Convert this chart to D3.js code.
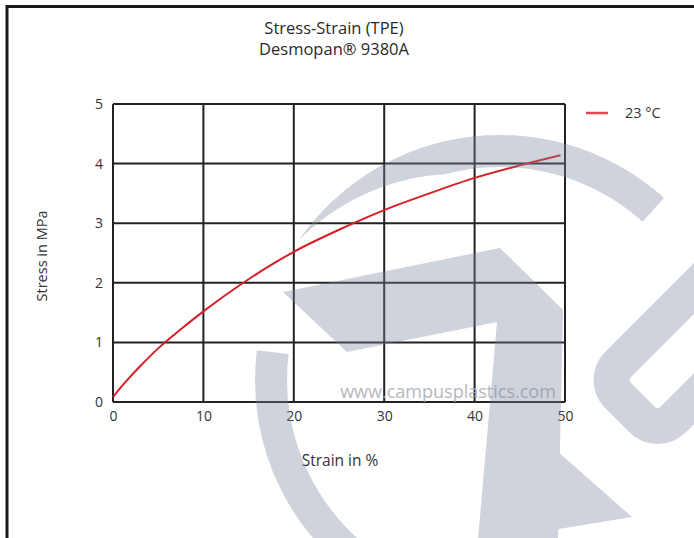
<!DOCTYPE html>
<html><head><meta charset="utf-8">
<script src="https://cdn.jsdelivr.net/npm/d3@7"></script>
<style>body{margin:0;background:#fff}svg{display:block}</style>
</head><body>
<svg id="c" width="694" height="538"></svg>
<script>
const titleLines = ["Stress-Strain (TPE)", "Desmopan\u00AE 9380A"];
const xLabel = "Strain in %";
const yLabel = "Stress in MPa";
const seriesName = "23 \u00B0C";
const strain = [0, 1, 2, 3, 5, 7.5, 10, 12.5, 15, 17.5, 20, 25, 30, 35, 40, 45, 49.5];
const stress = [0.08, 0.27, 0.44, 0.6, 0.9, 1.22, 1.52, 1.8, 2.06, 2.3, 2.52, 2.89, 3.22, 3.5, 3.76, 3.97, 4.14];
const xTicks = [0, 10, 20, 30, 40, 50];
const yTicks = [0, 1, 2, 3, 4, 5];

const svg = d3.select("#c");
const font = "'Open Sans', 'DejaVu Sans', sans-serif";
const L = 113, R = 565, T = 104, B = 402;
const x = d3.scaleLinear().domain([0, 50]).range([L, R]);
const y = d3.scaleLinear().domain([0, 5]).range([B, T]);

// frame
svg.append("line").attr("x1",7).attr("x2",7).attr("y1",5).attr("y2",538).attr("stroke","#1a1a1a").attr("stroke-width",3);
svg.append("line").attr("x1",6).attr("x2",694).attr("y1",6.5).attr("y2",6.5).attr("stroke","#1a1a1a").attr("stroke-width",3);

// titles
svg.selectAll("text.title").data(titleLines).join("text")
  .attr("x", 334).attr("y", (d,i)=>34+i*21).attr("text-anchor","middle")
  .attr("font-family",font).attr("font-size",16.5).attr("fill","#2a2a2a").text(d=>d);

// grid
const g = svg.append("g");
g.selectAll("line.vx").data(xTicks).join("line")
  .attr("x1",d=>x(d)).attr("x2",d=>x(d)).attr("y1",T).attr("y2",B)
  .attr("stroke","#222").attr("stroke-width",2);
g.selectAll("line.hy").data(yTicks).join("line")
  .attr("y1",d=>y(d)).attr("y2",d=>y(d)).attr("x1",L).attr("x2",R)
  .attr("stroke","#222").attr("stroke-width",2);

// tick labels via d3 axes (no lines)
const xa = svg.append("g").attr("transform",`translate(0,${B+5})`)
  .call(d3.axisBottom(x).tickValues(xTicks).tickFormat(d3.format("d")).tickSize(0).tickPadding(4));
const ya = svg.append("g").attr("transform",`translate(${L-8},0)`)
  .call(d3.axisLeft(y).tickValues(yTicks).tickFormat(d3.format("d")).tickSize(0).tickPadding(2));
[xa, ya].forEach(a=>{
  a.select(".domain").remove();
  a.selectAll("text").attr("font-family",font).attr("font-size",14).attr("fill","#333");
});

svg.append("text").attr("x",340).attr("y",466).attr("text-anchor","middle")
  .attr("font-family",font).attr("font-size",15.5).attr("fill","#333").text(xLabel);
svg.append("text").attr("transform","translate(47,256) rotate(-90)").attr("text-anchor","middle")
  .attr("font-family",font).attr("font-size",14.5).attr("fill","#333").text(yLabel);

// curve
const data = strain.map((s,i)=>[s, stress[i]]);
svg.append("path").datum(data)
  .attr("d", d3.line().x(d=>x(d[0])).y(d=>y(d[1])).curve(d3.curveMonotoneX))
  .attr("fill","none").attr("stroke","#d61f26").attr("stroke-width",2);

// legend
svg.append("line").attr("x1",586).attr("x2",608).attr("y1",113).attr("y2",113)
  .attr("stroke","#e0474f").attr("stroke-width",2.5);
svg.append("text").attr("x",625).attr("y",118).attr("font-family",font)
  .attr("font-size",14.5).attr("fill","#333").text(seriesName);

// watermark text
svg.append("text").attr("x",448).attr("y",398).attr("text-anchor","middle")
  .attr("font-family",font).attr("font-size",18).attr("fill","#a9acb4").attr("opacity",0.85)
  .text("www.campusplastics.com");

// watermark logo (semi-transparent, decorative)
const wm = svg.append("g").attr("fill","#7d869f").attr("opacity",0.36);
const cx = 500, cy = 380, ro = 245;
// lower-left arc piece
wm.append("path").attr("transform",`translate(${cx},${cy})`)
  .attr("d", d3.arc().innerRadius(213).outerRadius(ro).startAngle(-Math.PI*1.2).endAngle(-83*Math.PI/180)());
// upper tapered arc piece
const a0 = -55, a1 = 42, outer = [], inner = [];
for (let a = a0; a <= a1; a += 1) {
  const t = a*Math.PI/180;
  const ri = ro - 32*Math.min(1, (a - a0)/40);
  outer.push([cx + ro*Math.sin(t), cy - ro*Math.cos(t)]);
  inner.push([cx + ri*Math.sin(t), cy - ri*Math.cos(t)]);
}
wm.append("path").attr("d", d3.line()(outer.concat(inner.reverse())) + "Z");
wm.append("path").attr("d","M283,292 L500,248 L563,310 L558,540 L478,540 L497,322 L347,352 Z");
wm.append("path").attr("d","M548,443 L632,517 L540,532 Z");
svg.append("g").attr("transform","translate(577,380) rotate(-45)")
  .append("rect").attr("x",18).attr("y",18).attr("width",300).attr("height",78).attr("rx",22)
  .attr("fill","none").attr("stroke","#7d869f").attr("stroke-width",36).attr("opacity",0.36);
</script>
</body></html>
